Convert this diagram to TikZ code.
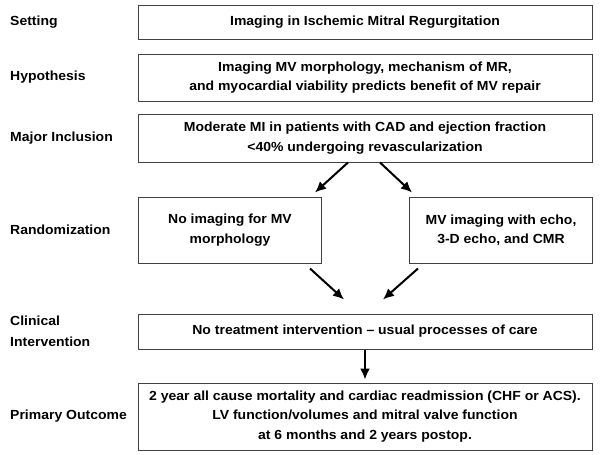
\documentclass[tikz,border=0pt]{standalone}
\usepackage{fontspec}
\setmainfont{Liberation Sans}[FakeStretch=1.06]
\usepackage{tikz}
\usetikzlibrary{shapes,arrows,arrows.meta,positioning}
\tikzstyle{block} = [rectangle, draw=black!75, line width=1pt, text centered, align=center, minimum width=454pt, font=\fontsize{13.2}{19.5}\selectfont\bfseries]
\tikzstyle{half} = [block, minimum width=183pt, minimum height=66pt]
\tikzstyle{tag} = [anchor=west, align=left, inner sep=0pt, font=\fontsize{13.2}{21}\selectfont\bfseries]
\tikzstyle{line} = [draw, line width=2pt, -{Latex[length=11pt,width=10pt]}]

\begin{document}
\begin{tikzpicture}[x=1pt, y=1pt]
\useasboundingbox (0,0) rectangle (600,-455);
\coordinate (lx) at (10,0);
\node [block, minimum height=34pt] (setting) at (365,-22) {Imaging in Ischemic Mitral Regurgitation};
\node [block, minimum height=47pt, below of=setting, node distance=55.5pt] (hypo) {Imaging MV morphology, mechanism of MR,\\and myocardial viability predicts benefit of MV repair};
\node [block, minimum height=48pt, below of=hypo, node distance=60.5pt] (incl) {Moderate MI in patients with CAD and ejection fraction\\<40\% undergoing revascularization};
\node [half, below of=incl, node distance=92pt, xshift=-135pt] (noimg) {No imaging for MV\\morphology};
\node [half, below of=incl, node distance=92pt, xshift=136pt] (mvimg) {MV imaging with echo,\\3-D echo, and CMR};
\node [block, minimum height=35pt, below of=incl, node distance=193.5pt] (care) {No treatment intervention -- usual processes of care};
\node [block, minimum height=67pt, below of=care, node distance=85pt] (outcome) {2 year all cause mortality and cardiac readmission (CHF or ACS).\\LV function/volumes and mitral valve function\\at 6 months and 2 years postop.};

% row labels
\node [tag] (lsetting) at (lx |- setting) {Setting};
\node [tag] (lhypo) at (lx |- hypo) {Hypothesis};
\node [tag] (lincl) at (lx |- incl) {Major Inclusion};
\node [tag] (lrand) at (lx |- noimg) {Randomization};
\node [tag] (lcare) at (lx |- care) {Clinical\\Intervention};
\node [tag] (loutcome) at (lx |- outcome) {Primary Outcome};

% arrow ends
\coordinate (s1) at ([xshift=-17pt]incl.south);
\coordinate (e1) at ([xshift=85pt, yshift=4pt]noimg.north);
\coordinate (s2) at ([xshift=15pt]incl.south);
\coordinate (e2) at ([xshift=-89pt, yshift=4pt]mvimg.north);
\coordinate (s3) at ([xshift=80pt, yshift=-5pt]noimg.south);
\coordinate (e3) at ([xshift=-21pt, yshift=14pt]care.north);
\coordinate (s4) at ([xshift=-83pt, yshift=-5pt]mvimg.south);
\coordinate (e4) at ([xshift=18pt, yshift=14pt]care.north);

\path [line] (s1) -- (e1);
\path [line] (s2) -- (e2);
\path [line] (s3) -- (e3);
\path [line] (s4) -- (e4);
\path [line] (care) -- ([yshift=3pt]outcome.north);
\end{tikzpicture}
\end{document}
